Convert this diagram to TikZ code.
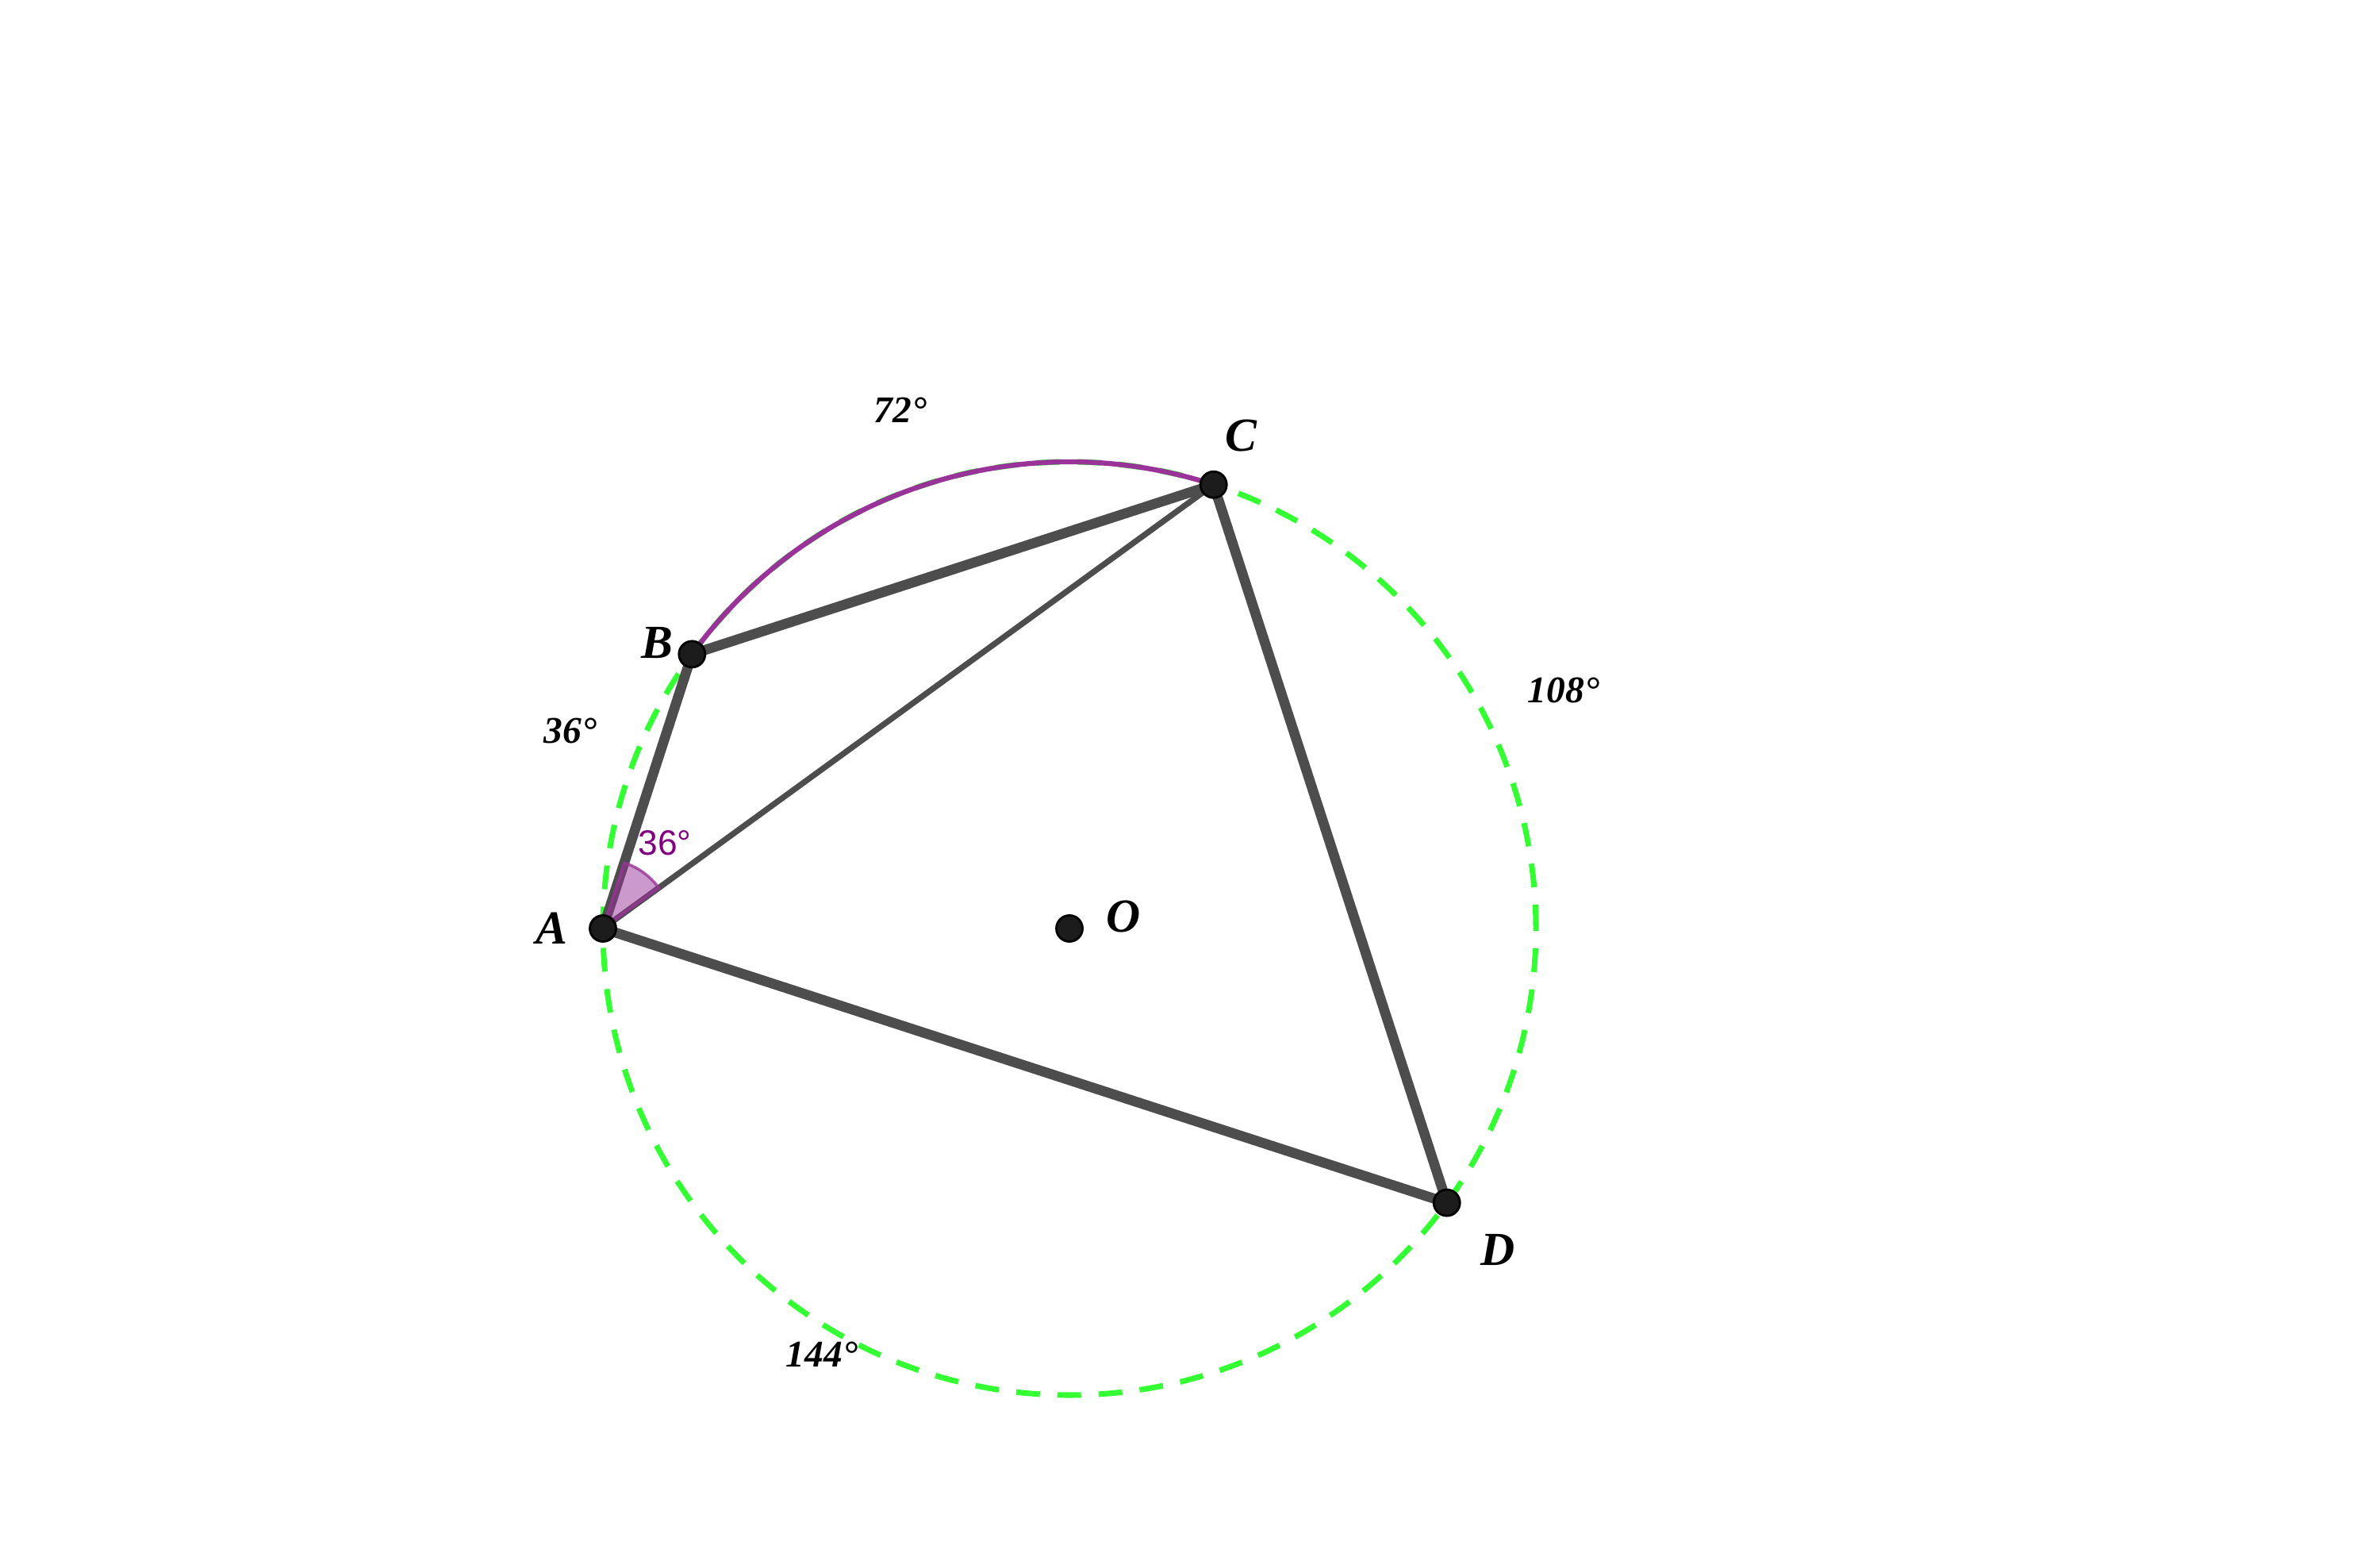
\documentclass[tikz,border=0pt]{standalone}
\usepackage{fontspec}
\setmainfont{Liberation Serif}
\newfontfamily\anglefont{Liberation Sans}
\usepackage{tikz}
\usetikzlibrary{calc}
\definecolor{circlegreen}{RGB}{51,255,51}
\definecolor{arcpurple}{RGB}{153,51,153}
\definecolor{sidegray}{RGB}{77,77,77}
\definecolor{anglepurple}{RGB}{128,0,128}
\definecolor{dotfill}{RGB}{28,28,28}

\tikzset{
    side/.style={draw=sidegray, line width=3.6pt, line join=round},
    dot/.style={circle, fill=dotfill, draw=black, line width=0.8pt, inner sep=0pt, minimum size=3.3mm},
    ptlabel/.style={font=\fontsize{17}{20}\selectfont\bfseries\itshape},
    arclabel/.style={font=\fontsize{13.5}{16}\selectfont\bfseries\itshape}
}

\begin{document}
\begin{tikzpicture}
    \useasboundingbox (0,0) rectangle (30,19.56);

    % Points on the circle
    \coordinate (O) at (13.48,7.86);
    \coordinate (A) at ($(O)+(180:5.88)$);
    \coordinate (B) at ($(O)+(144:5.88)$);
    \coordinate (C) at ($(O)+(72:5.88)$);
    \coordinate (D) at ($(O)+(-36:5.88)$);

    % Circle
    \draw[circlegreen, line width=2pt, dash pattern=on 3mm off 2.2mm] (O) circle (5.88);
    \draw[arcpurple, line width=1.8pt] (B) arc (144:72:5.88);

    % Quadrilateral and diagonal
    \draw[side] (A) -- (B) -- (C) -- (D) -- cycle;
    \draw[sidegray, line width=2.1pt] (A) -- (C);

    % Angle BAC
    \filldraw[draw=arcpurple, draw opacity=0.8, fill=arcpurple, fill opacity=0.5, line width=1pt]
        (A) -- ($(A)+(36:0.87)$) arc (36:72:0.87) -- cycle;
    \node[font=\anglefont\fontsize{12.6}{15}\selectfont, text=anglepurple] (angA) at ($(A)+(54:1.33)$) {36°};

    % Dots
    \node[dot] (dotA) at (A) {};
    \node[dot] (dotB) at (B) {};
    \node[dot] (dotC) at (C) {};
    \node[dot] (dotD) at (D) {};
    \node[dot] (dotO) at (O) {};

    % Point labels
    \node[ptlabel] (labA) at (6.95,7.86) {A};
    \node[ptlabel] (labB) at (8.28,11.46) {B};
    \node[ptlabel] (labC) at (15.64,14.07) {C};
    \node[ptlabel] (labD) at (18.88,3.81) {D};
    \node[ptlabel] (labO) at (14.16,8.01) {O};

    % Arc measures
    \node[arclabel] (arcAB) at (7.19,10.35) {36°};
    \node[arclabel] (arcBC) at (11.35,14.39) {72°};
    \node[arclabel] (arcCD) at (19.71,10.86) {108°};
    \node[arclabel] (arcDA) at (10.36,2.49) {144°};
\end{tikzpicture}
\end{document}
